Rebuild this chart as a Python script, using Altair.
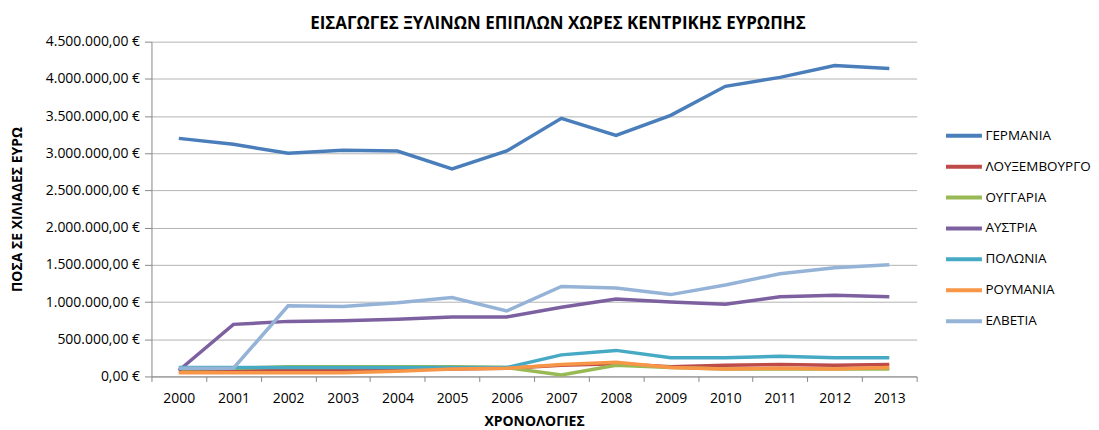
import altair as alt
import pandas as pd

years = [str(y) for y in range(2000, 2014)]
countries = ["ΓΕΡΜΑΝΙΑ", "ΛΟΥΞΕΜΒΟΥΡΓΟ", "ΟΥΓΓΑΡΙΑ", "ΑΥΣΤΡΙΑ", "ΠΟΛΩΝΙΑ", "ΡΟΥΜΑΝΙΑ", "ΕΛΒΕΤΙΑ"]
colors = ["#4A7EBB", "#BE4B48", "#98B954", "#7D60A0", "#46AAC5", "#F79646", "#95B3D7"]

germany     = [3200000, 3120000, 3000000, 3040000, 3030000, 2790000, 3030000, 3470000, 3240000, 3510000, 3900000, 4020000, 4180000, 4140000]
luxembourg  = [70000, 75000, 80000, 90000, 95000, 100000, 110000, 150000, 170000, 130000, 150000, 160000, 150000, 160000]
hungary     = [100000, 110000, 130000, 130000, 130000, 130000, 120000, 20000, 150000, 120000, 100000, 100000, 100000, 100000]
austria     = [80000, 700000, 740000, 750000, 770000, 800000, 800000, 930000, 1040000, 1000000, 970000, 1070000, 1090000, 1070000]
poland      = [120000, 120000, 120000, 120000, 120000, 120000, 120000, 290000, 350000, 250000, 250000, 270000, 250000, 250000]
romania     = [50000, 50000, 50000, 50000, 70000, 100000, 110000, 160000, 190000, 120000, 100000, 110000, 100000, 120000]
switzerland = [110000, 110000, 950000, 940000, 990000, 1060000, 880000, 1210000, 1190000, 1100000, 1230000, 1380000, 1460000, 1500000]

series = [germany, luxembourg, hungary, austria, poland, romania, switzerland]
rows = []
for ci, (c, vals) in enumerate(zip(countries, series)):
    for y, v in zip(years, vals):
        rows.append({"year": y, "country": c, "value": v, "order": ci})
df = pd.DataFrame(rows)

FONT = "Open Sans"

chart = alt.Chart(df).mark_line(strokeWidth=3.5).encode(
    x=alt.X("year:O", sort=years,
            scale=alt.Scale(paddingInner=0, paddingOuter=0),
            axis=alt.Axis(title="ΧΡΟΝΟΛΟΓΙΕΣ", labelAngle=0, tickBand="extent",
                          domainColor="#888888", tickColor="#888888", tickSize=5,
                          labelPadding=10, titlePadding=9, titleFontWeight="bold",
                          titleFontSize=14, labelFontSize=14, labelColor="#000000",
                          titleColor="#000000")),
    y=alt.Y("value:Q",
            scale=alt.Scale(domain=[0, 4500000]),
            axis=alt.Axis(title="ΠΟΣΑ ΣΕ ΧΙΛΙΑΔΕΣ ΕΥΡΩ", values=list(range(0, 4500001, 500000)),
                          format="$,.2f", domainColor="#888888", tickColor="#888888",
                          tickSize=7, gridColor="#B4B4B4", labelFontSize=14,
                          labelPadding=5, titlePadding=21, titleFontWeight="bold",
                          titleFontSize=14, labelColor="#000000", titleColor="#000000")),
    color=alt.Color("country:N", sort=countries,
                    scale=alt.Scale(domain=countries, range=colors),
                    legend=alt.Legend(title=None, symbolType="stroke", symbolStrokeWidth=4,
                                      symbolSize=1300, labelFontSize=13.5, rowPadding=2,
                                      labelLimit=200, labelOffset=1, labelColor="#000000",
                                      orient="none", legendX=795, legendY=74)),
    order=alt.Order("order:Q"),
).properties(
    width=768, height=336,
    autosize=alt.AutoSizeParams(type="none"),
    padding={"left": 144, "top": 33, "right": 175, "bottom": 60},
    title=alt.TitleParams("ΕΙΣΑΓΩΓΕΣ ΞΥΛΙΝΩΝ ΕΠΙΠΛΩΝ ΧΩΡΕΣ ΚΕΝΤΡΙΚΗΣ ΕΥΡΩΠΗΣ",
                          fontSize=17, fontWeight="bold", anchor="middle", frame="group",
                          dx=24, offset=2, color="#000000"),
).configure(
    font=FONT,
    locale={"number": {"decimal": ",", "thousands": ".", "grouping": [3],
                       "currency": ["", "\u00a0€"]}},
).configure_view(stroke=None)

chart.save("out.html", embed_options={"renderer": "svg", "actions": False})
